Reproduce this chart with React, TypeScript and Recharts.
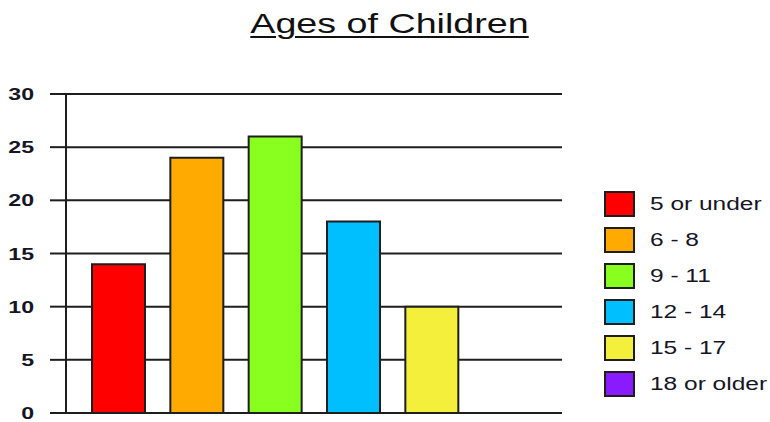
import React from "react";
import { BarChart, Bar, XAxis, YAxis, CartesianGrid, Cell } from "recharts";

// Age groups, number of children in each, and bar colours
const ageGroups = ["5 or under", "6 - 8", "9 - 11", "12 - 14", "15 - 17", "18 or older"];
const childCounts = [14, 24, 26, 18, 10, 0];
const groupColors = ["#ff0000", "#ffaa00", "#88ff1e", "#00bfff", "#f4ef3a", "#8a1aff"];
const yTicks = [0, 5, 10, 15, 20, 25, 30];

const data = ageGroups.map((group, i) => ({ group, count: childCounts[i] }));

const INK = "#1e1e1e";
const FONT = "'Liberation Sans', Arial, sans-serif";
const STRETCH = 1.36;

const YTick = (props: any) => {
  const { x, y, payload } = props;
  return (
    <text
      transform={`translate(${x - 14}, ${y}) scale(${STRETCH}, 1)`}
      textAnchor="end"
      dy="0.36em"
      fontFamily={FONT}
      fontWeight="bold"
      fontSize={17}
      fill="#151525"
    >
      {payload.value}
    </text>
  );
};

const AgeLegend = () => (
  <div style={{ position: "absolute", left: 604, top: 186, width: 166, fontFamily: FONT }}>
    {ageGroups.map((g, i) => (
      <div key={g} style={{ display: "flex", alignItems: "center", height: 36 }}>
        <div
          style={{
            width: 27,
            height: 22,
            background: groupColors[i],
            border: `2px solid ${INK}`,
          }}
        />
        <span
          style={{
            marginLeft: 15,
            fontSize: 18,
            color: "#151525",
            display: "inline-block",
            transform: `scaleX(${STRETCH})`,
            transformOrigin: "left center",
            whiteSpace: "nowrap",
          }}
        >
          {g}
        </span>
      </div>
    ))}
  </div>
);

export default function App() {
  return (
    <div style={{ position: "absolute", left: 0, top: 0, width: 770, height: 422, background: "#fff" }}>
      <BarChart
        width={770}
        height={422}
        data={data}
        margin={{ top: 94, right: 208, bottom: 9, left: 0 }}
        style={{ position: "absolute", left: 0, top: 0 }}
      >
        <CartesianGrid vertical={false} stroke={INK} strokeWidth={2} />
        <XAxis dataKey="group" hide padding={{ left: 13, right: 13 }} />
        <YAxis
          width={66}
          domain={[0, 30]}
          ticks={yTicks}
          interval={0}
          tickSize={16}
          tickLine={{ stroke: INK, strokeWidth: 2 }}
          axisLine={{ stroke: INK, strokeWidth: 2 }}
          tick={<YTick />}
        />
        <YAxis
          yAxisId="frame"
          orientation="right"
          width={0}
          domain={[0, 30]}
          tick={false}
          tickLine={false}
          axisLine={{ stroke: INK, strokeWidth: 2 }}
        />
        <Bar dataKey="count" barSize={53} stroke={INK} strokeWidth={2} isAnimationActive={false}>
          {data.map((d, i) => (
            <Cell key={d.group} fill={groupColors[i]} />
          ))}
        </Bar>
      </BarChart>
      <div
        style={{
          position: "absolute",
          left: 10,
          top: 8,
          width: 760,
          textAlign: "center",
          fontFamily: FONT,
          fontSize: 28,
          lineHeight: "32px",
          color: "#111",
        }}
      >
        <span
          style={{
            display: "inline-block",
            transform: "scaleX(1.345)",
            textDecoration: "underline",
            textDecorationThickness: "2px",
            textUnderlineOffset: "3px",
          }}
        >
          Ages of Children
        </span>
      </div>
      <AgeLegend />
    </div>
  );
}
